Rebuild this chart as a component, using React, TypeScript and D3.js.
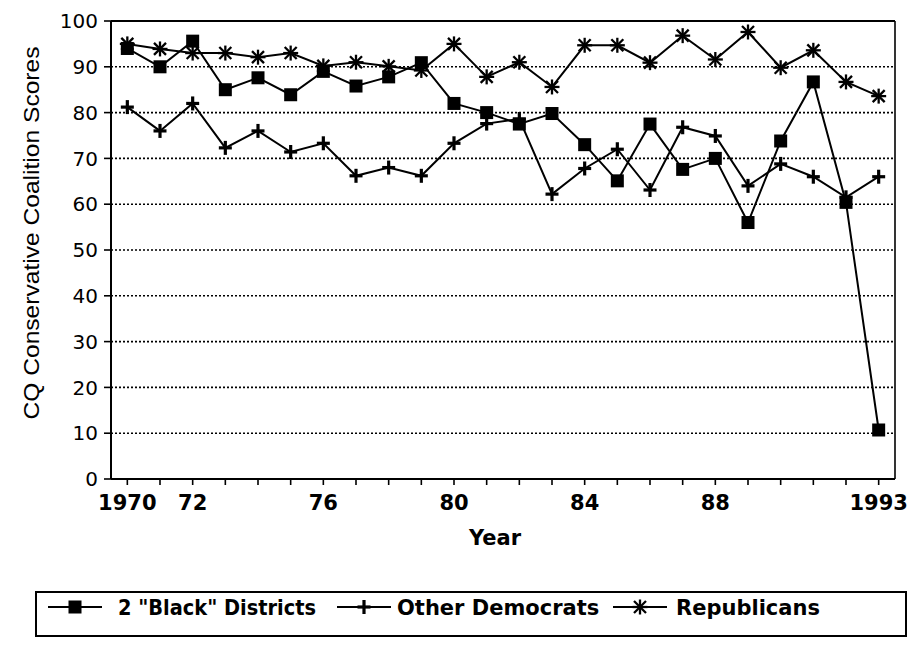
import React from 'react';
import * as d3 from 'd3';

// DATA
const years = [1970, 1971, 1972, 1973, 1974, 1975, 1976, 1977, 1978, 1979, 1980, 1981,
  1982, 1983, 1984, 1985, 1986, 1987, 1988, 1989, 1990, 1991, 1992, 1993];
const blackDistricts = [94, 90, 95.6, 85, 87.6, 83.9, 89, 85.8, 87.8, 90.9, 82, 80,
  77.5, 79.8, 73, 65.1, 77.5, 67.6, 70, 56, 73.8, 86.7, 60.4, 10.7];
const otherDemocrats = [81.2, 76, 82, 72.3, 76, 71.4, 73.3, 66.2, 68, 66.2, 73.3, 77.6,
  78.6, 62.2, 67.8, 72, 63.1, 76.8, 74.9, 64, 68.8, 66, 61.5, 66];
const republicans = [95, 93.9, 93, 93, 92.1, 93, 90.2, 91, 90.1, 89.2, 95, 87.8,
  91, 85.6, 94.7, 94.7, 90.9, 96.8, 91.6, 97.6, 89.8, 93.6, 86.7, 83.6];
const xLabelYears = [1970, 1972, 1976, 1980, 1984, 1988, 1993];
const xLabels = ['1970', '72', '76', '80', '84', '88', '1993'];
const yTicks = [0, 10, 20, 30, 40, 50, 60, 70, 80, 90, 100];
const seriesNames = ['2 "Black" Districts', 'Other Democrats', 'Republicans'];

// SET DIMENSIONS
const W = 909, H = 648;
const plot = { left: 111, right: 895, top: 21, bottom: 479 };
const font = 'DejaVu Sans, Arial, sans-serif';
const helv = 'Liberation Sans, Arial, sans-serif';

const Marker = ({ kind, x, y }: { kind: string; x: number; y: number }) => {
  if (kind === 'square') {
    return <rect x={x - 6.5} y={y - 6.5} width={13} height={13} fill="#000" />;
  }
  if (kind === 'plus') {
    return (
      <g stroke="#000" strokeWidth={3.2}>
        <line x1={x - 6.5} y1={y} x2={x + 6.5} y2={y} />
        <line x1={x} y1={y - 7} x2={x} y2={y + 7} />
      </g>
    );
  }
  return (
    <g stroke="#000" strokeWidth={2.3}>
      <line x1={x - 7.5} y1={y} x2={x + 7.5} y2={y} />
      <line x1={x} y1={y - 7.5} x2={x} y2={y + 7.5} />
      <line x1={x - 6} y1={y - 6} x2={x + 6} y2={y + 6} />
      <line x1={x - 6} y1={y + 6} x2={x + 6} y2={y - 6} />
    </g>
  );
};

export default function App() {
  const xScale = d3.scaleLinear().domain([1969.5, 1993.5]).range([plot.left, plot.right]);
  const yScale = d3.scaleLinear().domain([0, 100]).range([plot.bottom, plot.top]);

  const line = d3
    .line<number>()
    .x((_, i) => xScale(years[i]))
    .y((d) => yScale(d));

  const series = [
    { values: blackDistricts, kind: 'square' },
    { values: otherDemocrats, kind: 'plus' },
    { values: republicans, kind: 'star' },
  ];

  // legend layout
  const legend = { left: 36, right: 906, top: 592, bottom: 636 };
  const legendItems = [
    { kind: 'square', mx: 75, tx: 118, len: 198 },
    { kind: 'plus', mx: 364, tx: 397, len: 0 },
    { kind: 'star', mx: 640, tx: 676, len: 0 },
  ];
  const legendY = 607;

  return (
    <svg width={W} height={H} style={{ position: 'absolute', left: 0, top: 0, background: '#fff' }}>
      <rect width={W} height={H} fill="#fff" />

      {/* GRIDLINES */}
      {yTicks.filter((t) => t > 0 && t < 100).map((t) => (
        <line key={t} x1={plot.left} x2={plot.right} y1={yScale(t)} y2={yScale(t)}
          stroke="#000" strokeWidth={1.6} strokeDasharray="2,2" />
      ))}

      {/* FRAME */}
      <line x1={plot.left} x2={plot.right} y1={plot.top} y2={plot.top} stroke="#000" strokeWidth={2} />
      <line x1={plot.right} x2={plot.right} y1={plot.top} y2={plot.bottom} stroke="#000" strokeWidth={1.6} />
      <line x1={plot.left} x2={plot.left} y1={plot.top} y2={plot.bottom} stroke="#000" strokeWidth={2} />
      <line x1={plot.left} x2={plot.right} y1={plot.bottom} y2={plot.bottom} stroke="#000" strokeWidth={2} />

      {/* Y AXIS */}
      {yTicks.map((t) => (
        <g key={t}>
          <line x1={plot.left - 7} x2={plot.left} y1={yScale(t)} y2={yScale(t)} stroke="#000" strokeWidth={1.6} />
          <text x={98} y={yScale(t)} dy="0.36em" textAnchor="end" fontFamily={font} fontSize={20}>
            {t}
          </text>
        </g>
      ))}

      {/* X AXIS */}
      {years.map((y) => (
        <line key={y} x1={xScale(y)} x2={xScale(y)} y1={plot.bottom} y2={plot.bottom + 6} stroke="#000" strokeWidth={1.6} />
      ))}
      {xLabelYears.map((y, i) => (
        <text key={y} x={xScale(y)} y={510} textAnchor="middle" fontFamily={font} fontSize={21} fontWeight="bold">
          {xLabels[i]}
        </text>
      ))}

      {/* AXIS TITLES */}
      <text x={495} y={545} textAnchor="middle" fontFamily={font} fontSize={21} fontWeight="bold">Year</text>
      <text transform="translate(39,233) rotate(-90)" textAnchor="middle" fontFamily={helv} fontSize={22}
        textLength={373} lengthAdjust="spacingAndGlyphs">
        CQ Conservative Coalition Scores
      </text>

      {/* SERIES */}
      {series.map((s, si) => (
        <g key={si}>
          <path d={line(s.values) || ''} fill="none" stroke="#000" strokeWidth={2} />
          {s.values.map((v, i) => (
            <Marker key={i} kind={s.kind} x={xScale(years[i])} y={yScale(v)} />
          ))}
        </g>
      ))}

      {/* LEGEND */}
      <rect x={legend.left} y={legend.top} width={legend.right - legend.left} height={legend.bottom - legend.top}
        fill="none" stroke="#000" strokeWidth={2} />
      {legendItems.map((it, i) => (
        <g key={i}>
          <line x1={it.mx - 27} x2={it.mx + 27} y1={legendY} y2={legendY} stroke="#000" strokeWidth={2} />
          <Marker kind={it.kind} x={it.mx} y={legendY} />
          <text x={it.tx} y={legendY} dy="0.36em" fontFamily={font} fontSize={21} fontWeight="bold"
            {...(it.len ? { textLength: it.len, lengthAdjust: 'spacingAndGlyphs' } : {})}>
            {seriesNames[i]}
          </text>
        </g>
      ))}
    </svg>
  );
}
